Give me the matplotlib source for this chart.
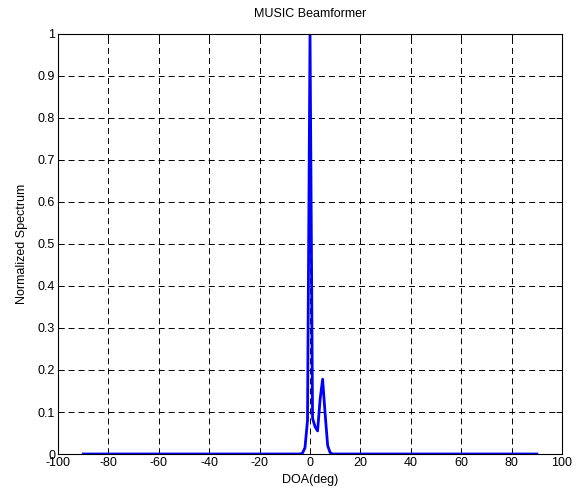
import matplotlib
matplotlib.use("Agg")
import matplotlib.pyplot as plt

# MUSIC spectrum (flat ~0 outside the peaks)
doa = [-90, -4, -3, -2, -1, 0, 1, 2, 3, 4, 5, 6, 7, 8, 9, 90]
spectrum = [0.0, 0.0, 0.002, 0.015, 0.08, 1.0, 0.085, 0.065, 0.055, 0.13,
            0.178, 0.095, 0.02, 0.003, 0.0, 0.0]

xticks = [-100, -80, -60, -40, -20, 0, 20, 40, 60, 80, 100]
yticks = [0, 0.1, 0.2, 0.3, 0.4, 0.5, 0.6, 0.7, 0.8, 0.9, 1]
ylabels = ["0", "0.1", "0.2", "0.3", "0.4", "0.5", "0.6", "0.7", "0.8", "0.9", "1"]

plt.rcParams.update({"font.family": ["Liberation Sans", "DejaVu Sans"], "font.size": 9,
                     "axes.unicode_minus": False})

fig = plt.figure(figsize=(5.79, 4.93), dpi=100)
ax = fig.add_axes([0.1002, 0.0791, 0.8705, 0.852])
ax.plot(doa, spectrum, color="#0000ff", lw=2)

ax.set_xlim(-100, 100); ax.set_ylim(0, 1)
ax.set_xticks(xticks); ax.set_yticks(yticks)
ax.set_yticklabels(ylabels)
ax.grid(True, color="black", ls=(0, (6.2, 4.1)), lw=0.7)
ax.tick_params(direction="in", top=True, right=True, length=4, width=0.7, pad=2)
for s in ax.spines.values():
    s.set_linewidth(0.8)

ax.set_title("MUSIC Beamformer", fontsize=9, pad=12)
ax.set_xlabel("DOA(deg)", labelpad=4)
ax.set_ylabel("Normalized Spectrum", labelpad=7)

fig.savefig("out.png", dpi=100, facecolor="white")
